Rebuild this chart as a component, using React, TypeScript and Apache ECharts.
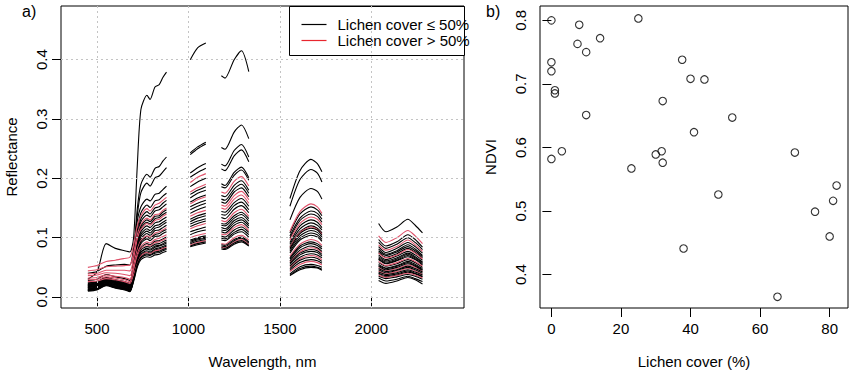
import React, { useEffect, useRef } from "react";
import * as echarts from "echarts";

// ---------- Panel a) spectra ----------
const WL_SEG1 = [450, 500, 550, 600, 650, 680, 700, 720, 740, 773, 790, 817, 840, 860, 880];
const WL_SEG2 = [1010, 1050, 1095];
const WL_SEG3 = [1180, 1200, 1250, 1290, 1330];
const WL_SEG4 = [1555, 1610, 1670, 1705, 1730];
const WL_SEG5 = [2040, 2080, 2140, 2200, 2240, 2280];
const GAP_WL = [950, 1140, 1440, 1900];

const REFL_SEG1 = [
  [0.030, 0.042, 0.090, 0.082, 0.078, 0.076, 0.100, 0.220, 0.316, 0.340, 0.333, 0.354, 0.358, 0.370, 0.379],
  [0.022, 0.024, 0.031, 0.027, 0.024, 0.021, 0.072, 0.148, 0.190, 0.207, 0.202, 0.217, 0.220, 0.229, 0.236],
  [0.020, 0.022, 0.029, 0.025, 0.022, 0.019, 0.066, 0.137, 0.176, 0.192, 0.187, 0.201, 0.204, 0.211, 0.218],
  [0.040, 0.043, 0.052, 0.054, 0.055, 0.054, 0.083, 0.128, 0.152, 0.165, 0.162, 0.173, 0.175, 0.181, 0.187],
  [0.018, 0.020, 0.027, 0.023, 0.020, 0.017, 0.055, 0.111, 0.142, 0.155, 0.151, 0.162, 0.164, 0.170, 0.175],
  [0.050, 0.053, 0.060, 0.062, 0.065, 0.067, 0.088, 0.120, 0.137, 0.149, 0.145, 0.155, 0.158, 0.163, 0.168],
  [0.016, 0.018, 0.025, 0.021, 0.018, 0.015, 0.050, 0.103, 0.132, 0.144, 0.140, 0.150, 0.152, 0.158, 0.163],
  [0.028, 0.030, 0.038, 0.034, 0.031, 0.028, 0.058, 0.102, 0.127, 0.138, 0.135, 0.145, 0.147, 0.152, 0.157],
  [0.044, 0.046, 0.051, 0.052, 0.053, 0.054, 0.074, 0.105, 0.122, 0.133, 0.130, 0.139, 0.140, 0.146, 0.150],
  [0.015, 0.017, 0.024, 0.020, 0.017, 0.014, 0.046, 0.093, 0.119, 0.130, 0.127, 0.136, 0.137, 0.143, 0.147],
  [0.021, 0.023, 0.030, 0.026, 0.023, 0.020, 0.049, 0.092, 0.116, 0.126, 0.123, 0.132, 0.134, 0.139, 0.143],
  [0.039, 0.040, 0.045, 0.045, 0.045, 0.044, 0.065, 0.097, 0.114, 0.124, 0.121, 0.129, 0.131, 0.136, 0.140],
  [0.013, 0.015, 0.022, 0.018, 0.015, 0.012, 0.041, 0.086, 0.110, 0.120, 0.117, 0.125, 0.127, 0.131, 0.135],
  [0.024, 0.026, 0.033, 0.029, 0.026, 0.023, 0.048, 0.085, 0.106, 0.115, 0.112, 0.120, 0.122, 0.126, 0.130],
  [0.017, 0.019, 0.026, 0.022, 0.019, 0.016, 0.042, 0.081, 0.102, 0.111, 0.108, 0.116, 0.118, 0.122, 0.126],
  [0.012, 0.014, 0.021, 0.017, 0.014, 0.011, 0.037, 0.076, 0.098, 0.107, 0.104, 0.112, 0.113, 0.117, 0.121],
  [0.036, 0.037, 0.041, 0.040, 0.038, 0.036, 0.054, 0.080, 0.095, 0.103, 0.101, 0.108, 0.110, 0.113, 0.117],
  [0.019, 0.021, 0.028, 0.024, 0.021, 0.018, 0.041, 0.074, 0.093, 0.101, 0.099, 0.105, 0.107, 0.111, 0.114],
  [0.014, 0.016, 0.023, 0.019, 0.016, 0.013, 0.036, 0.071, 0.090, 0.098, 0.095, 0.102, 0.103, 0.107, 0.110],
  [0.032, 0.033, 0.037, 0.035, 0.033, 0.030, 0.047, 0.072, 0.086, 0.093, 0.091, 0.097, 0.099, 0.102, 0.105],
  [0.011, 0.013, 0.020, 0.016, 0.013, 0.010, 0.032, 0.065, 0.083, 0.090, 0.088, 0.094, 0.095, 0.098, 0.101],
  [0.029, 0.030, 0.034, 0.032, 0.029, 0.026, 0.043, 0.067, 0.081, 0.088, 0.086, 0.092, 0.093, 0.096, 0.099],
  [0.016, 0.018, 0.025, 0.021, 0.018, 0.015, 0.034, 0.063, 0.079, 0.085, 0.084, 0.089, 0.090, 0.093, 0.096],
  [0.023, 0.025, 0.032, 0.028, 0.025, 0.022, 0.038, 0.063, 0.076, 0.082, 0.081, 0.086, 0.087, 0.090, 0.093],
  [0.010, 0.012, 0.019, 0.015, 0.012, 0.009, 0.029, 0.059, 0.075, 0.081, 0.079, 0.084, 0.086, 0.088, 0.091],
  [0.013, 0.015, 0.022, 0.018, 0.015, 0.012, 0.030, 0.057, 0.072, 0.078, 0.076, 0.081, 0.083, 0.085, 0.088],
  [0.020, 0.022, 0.029, 0.025, 0.022, 0.019, 0.034, 0.057, 0.070, 0.076, 0.074, 0.079, 0.081, 0.083, 0.086],
  [0.026, 0.027, 0.031, 0.029, 0.026, 0.023, 0.037, 0.055, 0.069, 0.075, 0.073, 0.078, 0.079, 0.082, 0.084],
  [0.012, 0.014, 0.021, 0.017, 0.014, 0.011, 0.028, 0.053, 0.067, 0.073, 0.071, 0.076, 0.077, 0.080, 0.082],
  [0.018, 0.020, 0.027, 0.023, 0.020, 0.017, 0.032, 0.054, 0.066, 0.071, 0.070, 0.074, 0.075, 0.078, 0.080],
  [0.011, 0.013, 0.020, 0.016, 0.013, 0.010, 0.026, 0.050, 0.063, 0.068, 0.067, 0.071, 0.072, 0.075, 0.077],
];

const REFL_SEG2 = [
  [0.400, 0.420, 0.428], [0.243, 0.253, 0.261], [0.240, 0.250, 0.258], [0.209, 0.218, 0.225],
  [0.202, 0.210, 0.217], [0.193, 0.202, 0.208], [0.186, 0.194, 0.200], [0.173, 0.180, 0.186],
  [0.177, 0.184, 0.190], [0.167, 0.175, 0.180], [0.160, 0.167, 0.172], [0.157, 0.164, 0.169],
  [0.152, 0.158, 0.163], [0.147, 0.153, 0.158], [0.141, 0.147, 0.152], [0.131, 0.137, 0.141],
  [0.136, 0.142, 0.146], [0.127, 0.133, 0.137], [0.123, 0.128, 0.132], [0.115, 0.120, 0.124],
  [0.119, 0.124, 0.128], [0.100, 0.104, 0.107], [0.110, 0.114, 0.118], [0.105, 0.110, 0.113],
  [0.096, 0.100, 0.103], [0.094, 0.098, 0.101], [0.092, 0.096, 0.099], [0.088, 0.092, 0.095],
  [0.090, 0.094, 0.097], [0.086, 0.090, 0.093], [0.085, 0.088, 0.091],
];

const REFL_SEG3 = [
  [0.373, 0.369, 0.400, 0.415, 0.380], [0.252, 0.249, 0.278, 0.290, 0.267],
  [0.224, 0.221, 0.247, 0.257, 0.236], [0.216, 0.213, 0.238, 0.248, 0.228],
  [0.191, 0.188, 0.210, 0.219, 0.201], [0.177, 0.175, 0.195, 0.203, 0.187],
  [0.186, 0.184, 0.205, 0.214, 0.197], [0.171, 0.169, 0.188, 0.196, 0.180],
  [0.155, 0.153, 0.171, 0.178, 0.164], [0.165, 0.163, 0.182, 0.190, 0.175],
  [0.160, 0.158, 0.177, 0.184, 0.169], [0.150, 0.148, 0.165, 0.172, 0.158],
  [0.144, 0.143, 0.159, 0.166, 0.153], [0.139, 0.138, 0.154, 0.160, 0.147],
  [0.134, 0.132, 0.148, 0.154, 0.142], [0.124, 0.123, 0.137, 0.143, 0.132],
  [0.129, 0.127, 0.142, 0.148, 0.136], [0.121, 0.120, 0.133, 0.139, 0.128],
  [0.117, 0.115, 0.129, 0.134, 0.123], [0.106, 0.105, 0.117, 0.122, 0.112],
  [0.113, 0.112, 0.125, 0.130, 0.120], [0.090, 0.089, 0.100, 0.104, 0.096],
  [0.110, 0.108, 0.121, 0.126, 0.116], [0.103, 0.101, 0.113, 0.118, 0.109],
  [0.099, 0.098, 0.109, 0.114, 0.105], [0.096, 0.095, 0.106, 0.110, 0.101],
  [0.088, 0.087, 0.097, 0.101, 0.093], [0.084, 0.083, 0.093, 0.097, 0.089],
  [0.086, 0.085, 0.095, 0.099, 0.091], [0.083, 0.082, 0.091, 0.095, 0.087],
  [0.081, 0.080, 0.089, 0.093, 0.086],
];

const REFL_SEG4 = [
  [0.166, 0.213, 0.232, 0.225, 0.211], [0.153, 0.198, 0.215, 0.209, 0.194],
  [0.130, 0.168, 0.183, 0.178, 0.165], [0.108, 0.140, 0.152, 0.147, 0.137],
  [0.103, 0.133, 0.145, 0.141, 0.131], [0.111, 0.144, 0.157, 0.152, 0.141],
  [0.099, 0.129, 0.140, 0.136, 0.126], [0.092, 0.120, 0.130, 0.126, 0.117],
  [0.096, 0.124, 0.135, 0.131, 0.122], [0.089, 0.115, 0.125, 0.121, 0.113],
  [0.085, 0.110, 0.120, 0.116, 0.108], [0.084, 0.109, 0.118, 0.114, 0.106],
  [0.082, 0.107, 0.116, 0.113, 0.104], [0.080, 0.103, 0.112, 0.109, 0.101],
  [0.077, 0.099, 0.108, 0.105, 0.097], [0.074, 0.096, 0.104, 0.101, 0.094],
  [0.069, 0.089, 0.097, 0.094, 0.087], [0.066, 0.086, 0.093, 0.090, 0.084],
  [0.064, 0.083, 0.090, 0.087, 0.081], [0.059, 0.076, 0.083, 0.081, 0.075],
  [0.061, 0.079, 0.086, 0.083, 0.077], [0.050, 0.064, 0.070, 0.068, 0.063],
  [0.057, 0.074, 0.080, 0.078, 0.072], [0.055, 0.071, 0.077, 0.075, 0.069],
  [0.052, 0.067, 0.073, 0.071, 0.066], [0.048, 0.062, 0.067, 0.065, 0.060],
  [0.045, 0.058, 0.063, 0.061, 0.057], [0.043, 0.055, 0.060, 0.058, 0.054],
  [0.039, 0.051, 0.055, 0.053, 0.050], [0.037, 0.048, 0.052, 0.050, 0.047],
  [0.036, 0.046, 0.050, 0.049, 0.045],
];

const REFL_SEG5 = [
  [0.124, 0.110, 0.118, 0.131, 0.121, 0.108], [0.097, 0.086, 0.093, 0.105, 0.097, 0.084],
  [0.092, 0.082, 0.089, 0.100, 0.092, 0.080], [0.085, 0.075, 0.082, 0.092, 0.085, 0.074],
  [0.081, 0.072, 0.078, 0.088, 0.081, 0.070], [0.103, 0.092, 0.100, 0.112, 0.103, 0.090],
  [0.078, 0.070, 0.076, 0.085, 0.078, 0.068], [0.075, 0.067, 0.073, 0.082, 0.075, 0.066],
  [0.088, 0.079, 0.085, 0.096, 0.088, 0.077], [0.071, 0.063, 0.069, 0.077, 0.071, 0.062],
  [0.068, 0.061, 0.066, 0.074, 0.068, 0.059], [0.074, 0.066, 0.071, 0.080, 0.074, 0.064],
  [0.066, 0.059, 0.064, 0.072, 0.066, 0.058], [0.064, 0.057, 0.062, 0.070, 0.064, 0.056],
  [0.063, 0.056, 0.061, 0.068, 0.063, 0.054], [0.058, 0.052, 0.056, 0.063, 0.058, 0.050],
  [0.060, 0.053, 0.058, 0.065, 0.060, 0.052], [0.055, 0.049, 0.053, 0.060, 0.055, 0.048],
  [0.053, 0.048, 0.052, 0.058, 0.053, 0.046], [0.050, 0.044, 0.048, 0.054, 0.050, 0.043],
  [0.052, 0.046, 0.050, 0.056, 0.052, 0.045], [0.044, 0.039, 0.043, 0.048, 0.044, 0.038],
  [0.048, 0.043, 0.046, 0.052, 0.048, 0.042], [0.046, 0.041, 0.045, 0.050, 0.046, 0.040],
  [0.042, 0.038, 0.041, 0.046, 0.042, 0.037], [0.040, 0.036, 0.039, 0.044, 0.040, 0.035],
  [0.039, 0.034, 0.037, 0.042, 0.039, 0.034], [0.037, 0.033, 0.036, 0.040, 0.037, 0.032],
  [0.035, 0.031, 0.034, 0.038, 0.035, 0.030], [0.032, 0.027, 0.030, 0.035, 0.031, 0.026],
  [0.028, 0.023, 0.027, 0.033, 0.029, 0.022],
];

// true = lichen cover > 50%
const HIGH_LICHEN = [
  false, false, false, false, false, true, false, false, true, false, false, true, false, false, false, false,
  true, false, false, true, false, true, false, false, false, false, false, true, false, false, false,
];

const WL_TICKS = [500, 1000, 1500, 2000];
const REFL_TICKS = [0, 0.1, 0.2, 0.3, 0.4];

// ---------- Panel b) NDVI vs lichen cover ----------
const LICHEN_COVER = [0, 0, 0, 1, 1, 0, 3, 8, 7.5, 10, 10, 14, 25, 23, 30, 31.7, 32, 32, 37.6, 40, 44, 41, 52, 70, 82, 48, 38, 65, 75.8, 81, 80];
const NDVI = [0.800, 0.734, 0.720, 0.690, 0.685, 0.582, 0.594, 0.793, 0.763, 0.750, 0.651, 0.772, 0.803, 0.567, 0.589, 0.594, 0.576, 0.673, 0.738, 0.708, 0.707, 0.624, 0.647, 0.592, 0.540, 0.526, 0.441, 0.365, 0.499, 0.516, 0.460];
const COVER_TICKS = [0, 20, 40, 60, 80];
const NDVI_TICKS = [0.4, 0.5, 0.6, 0.7, 0.8];

const FONT = "'Liberation Sans', Arial, Helvetica, sans-serif";
const BLACK_COL = "#000000";
const RED_COL = "#DF536B";

function buildSpectrum(i: number): any[] {
  const segs: [number[], number[]][] = [
    [WL_SEG1, REFL_SEG1[i]],
    [WL_SEG2, REFL_SEG2[i]],
    [WL_SEG3, REFL_SEG3[i]],
    [WL_SEG4, REFL_SEG4[i]],
    [WL_SEG5, REFL_SEG5[i]],
  ];
  const out: any[] = [];
  segs.forEach(([wl, r], k) => {
    wl.forEach((w, j) => out.push([w, r[j]]));
    if (k < GAP_WL.length) out.push([GAP_WL[k], null]);
  });
  return out;
}

export default function App() {
  const ref = useRef<HTMLDivElement>(null);
  useEffect(() => {
    if (!ref.current) return;
    const chart = echarts.init(ref.current, undefined, { renderer: "svg" });

    const axisText = { color: "#000", fontSize: 15, fontFamily: FONT };
    const tickStyle = { show: true, length: 9, lineStyle: { color: "#000", width: 1 } };

    const spectraSeries = REFL_SEG1.map((_, i) => ({
      type: "line",
      xAxisIndex: 0,
      yAxisIndex: 0,
      data: buildSpectrum(i),
      showSymbol: false,
      symbol: "none",
      smooth: 0.25,
      connectNulls: false,
      silent: true,
      z: 3,
      lineStyle: { color: HIGH_LICHEN[i] ? RED_COL : BLACK_COL, width: 1.1 },
    }));

    const option: any = {
      animation: false,
      backgroundColor: "#ffffff",
      grid: [
        { left: 61, top: 6, width: 403, height: 302, show: true, borderColor: "#000", borderWidth: 1, backgroundColor: "transparent" },
        { left: 540, top: 6, width: 308, height: 302, show: true, borderColor: "#000", borderWidth: 1, backgroundColor: "transparent" },
      ],
      xAxis: [
        {
          type: "value", gridIndex: 0, min: 303, max: 2507,
          axisLine: { show: false },
          axisTick: { ...tickStyle, customValues: WL_TICKS },
          axisLabel: { ...axisText, margin: 13, customValues: WL_TICKS, formatter: (v: number) => String(v) },
          splitLine: { show: false },
          name: "Wavelength, nm", nameLocation: "middle", nameGap: 46,
          nameTextStyle: { ...axisText },
        },
        {
          type: "value", gridIndex: 1, min: -3.28, max: 85.28,
          axisLine: { show: false },
          axisTick: { ...tickStyle, customValues: COVER_TICKS },
          axisLabel: { ...axisText, margin: 13, customValues: COVER_TICKS, formatter: (v: number) => String(v) },
          splitLine: { show: false },
          name: "Lichen cover (%)", nameLocation: "middle", nameGap: 46,
          nameTextStyle: { ...axisText },
        },
      ],
      yAxis: [
        {
          type: "value", gridIndex: 0, min: -0.0185, max: 0.4905,
          axisLine: { show: false },
          axisTick: { ...tickStyle, customValues: REFL_TICKS },
          axisLabel: { ...axisText, margin: 12, rotate: 90, customValues: REFL_TICKS, formatter: (v: number) => v.toFixed(1) },
          splitLine: { show: false },
          name: "Reflectance", nameLocation: "middle", nameGap: 42,
          nameTextStyle: { ...axisText },
        },
        {
          type: "value", gridIndex: 1, min: 0.3474, max: 0.8226,
          axisLine: { show: false },
          axisTick: { ...tickStyle, customValues: NDVI_TICKS },
          axisLabel: { ...axisText, margin: 12, rotate: 90, customValues: NDVI_TICKS, formatter: (v: number) => v.toFixed(1) },
          splitLine: { show: false },
          name: "NDVI", nameLocation: "middle", nameGap: 42,
          nameTextStyle: { ...axisText },
        },
      ],
      series: [
        {
          type: "line",
          xAxisIndex: 0,
          yAxisIndex: 0,
          data: [],
          z: 1,
          silent: true,
          markLine: {
            silent: true,
            symbol: ["none", "none"],
            label: { show: false },
            lineStyle: { type: [2, 3], color: "#c4c4c4", width: 1 },
            data: [
              ...WL_TICKS.map((v) => ({ xAxis: v })),
              ...REFL_TICKS.map((v) => ({ yAxis: v })),
            ],
          },
        },
        ...spectraSeries,
        {
          type: "scatter",
          xAxisIndex: 1,
          yAxisIndex: 1,
          data: LICHEN_COVER.map((c, i) => [c, NDVI[i]]),
          symbol: "circle",
          symbolSize: 7.5,
          silent: true,
          itemStyle: { color: "rgba(0,0,0,0)", borderColor: "#000", borderWidth: 1.1 },
        },
      ],
      graphic: [
        { type: "text", left: 22, top: 3, style: { text: "a)", font: `16px ${FONT}`, fill: "#000" } },
        { type: "text", left: 486, top: 3, style: { text: "b)", font: `16px ${FONT}`, fill: "#000" } },
        {
          type: "group", left: 289, top: 6, z: 10,
          children: [
            { type: "rect", shape: { x: 0, y: 0, width: 175, height: 49 }, style: { fill: "#fff", stroke: "#000", lineWidth: 1 } },
            { type: "line", shape: { x1: 12, y1: 18, x2: 37, y2: 18 }, style: { stroke: "#000", lineWidth: 1.2 } },
            { type: "line", shape: { x1: 12, y1: 34, x2: 37, y2: 34 }, style: { stroke: "#E8262E", lineWidth: 1.2 } },
            { type: "text", x: 48, y: 18, style: { text: "Lichen cover ≤ 50%", font: `15px ${FONT}`, fill: "#000", verticalAlign: "middle" } },
            { type: "text", x: 48, y: 34, style: { text: "Lichen cover > 50%", font: `15px ${FONT}`, fill: "#000", verticalAlign: "middle" } },
          ],
        },
      ],
    };

    chart.setOption(option);
    return () => chart.dispose();
  }, []);

  return <div ref={ref} style={{ position: "absolute", left: 0, top: 0, width: 850, height: 376 }} />;
}
